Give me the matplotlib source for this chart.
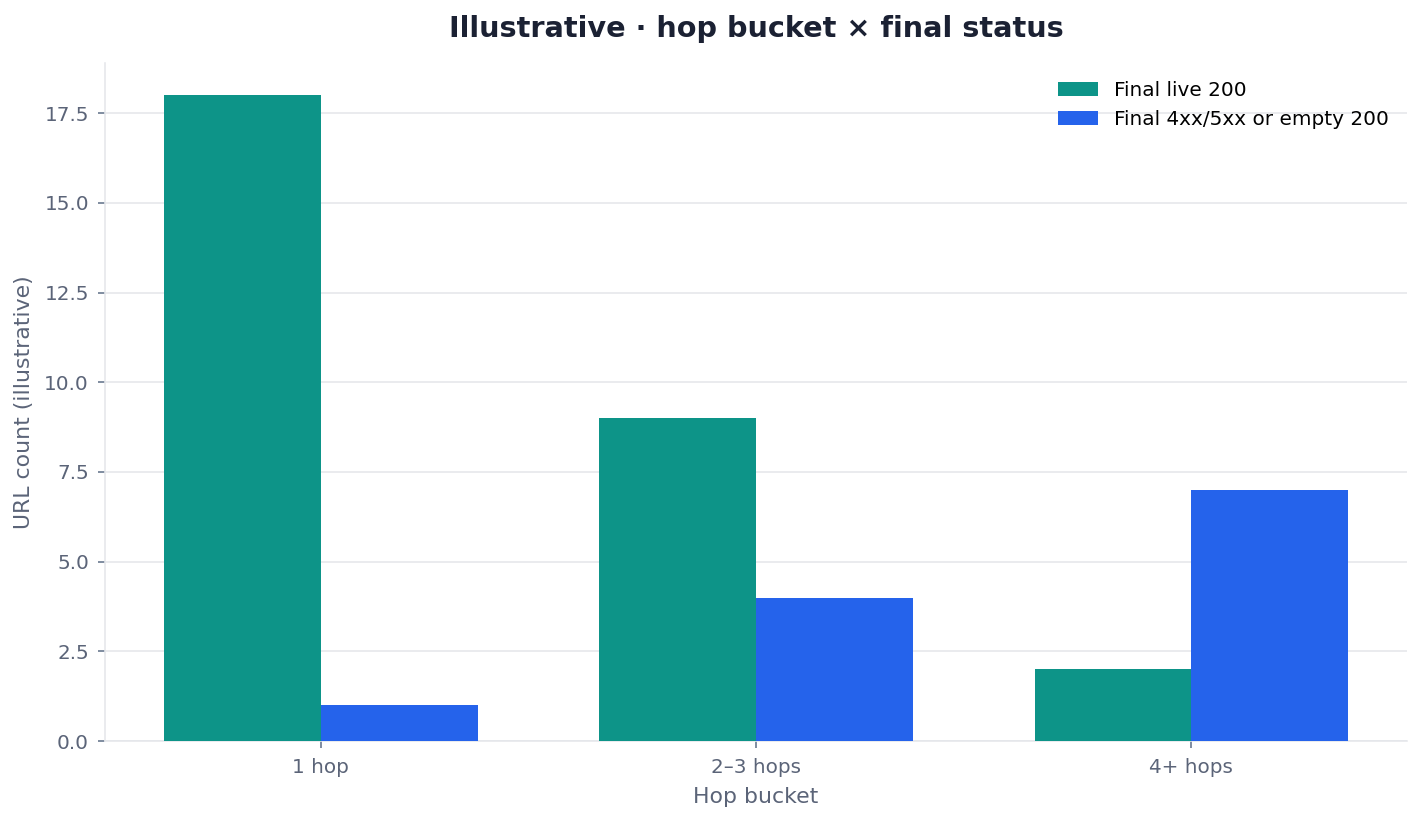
import matplotlib

matplotlib.use("Agg")
import matplotlib.pyplot as plt
import numpy as np

# data
buckets = ["1 hop", "2\u20133 hops", "4+ hops"]
live_200 = [18, 9, 2]
broken = [1, 4, 7]

TEAL = "#0d9488"
BLUE = "#2563eb"
SLATE = "#5b6478"
GRID = "#e5e7eb"
TITLE = "#1b2133"

fig = plt.figure(figsize=(1423 / 144, 821 / 144), dpi=144)
ax = fig.add_axes([0.0738, 0.0974, 0.915, 0.826])

x = np.arange(len(buckets))
w = 0.36
ax.bar(x - w / 2, live_200, width=w, color=TEAL, label="Final live 200", zorder=3)
ax.bar(x + w / 2, broken, width=w, color=BLUE, label="Final 4xx/5xx or empty 200", zorder=3)

ax.set_xticks(x)
ax.set_xticklabels(buckets)
ax.set_xlabel("Hop bucket", color=SLATE, fontsize=11, labelpad=5)
ax.set_ylabel("URL count (illustrative)", color=SLATE, fontsize=11, labelpad=5)
ax.set_title("Illustrative \u00b7 hop bucket \u00d7 final status", color=TITLE, fontsize=14.4, fontweight="bold", pad=13)

ax.tick_params(axis="both", colors="#64748b", labelcolor=SLATE, labelsize=10)
ax.tick_params(axis="x", pad=5)
ax.tick_params(axis="y", pad=4.5)
ax.grid(axis="y", color=GRID, linewidth=0.8, zorder=0)
ax.spines["top"].set_visible(False)
ax.spines["right"].set_visible(False)
ax.spines["left"].set_color(GRID)
ax.spines["bottom"].set_color(GRID)

ax.legend(loc="upper right", frameon=False, fontsize=10)

fig.savefig("out.png", dpi=144, facecolor="white")
